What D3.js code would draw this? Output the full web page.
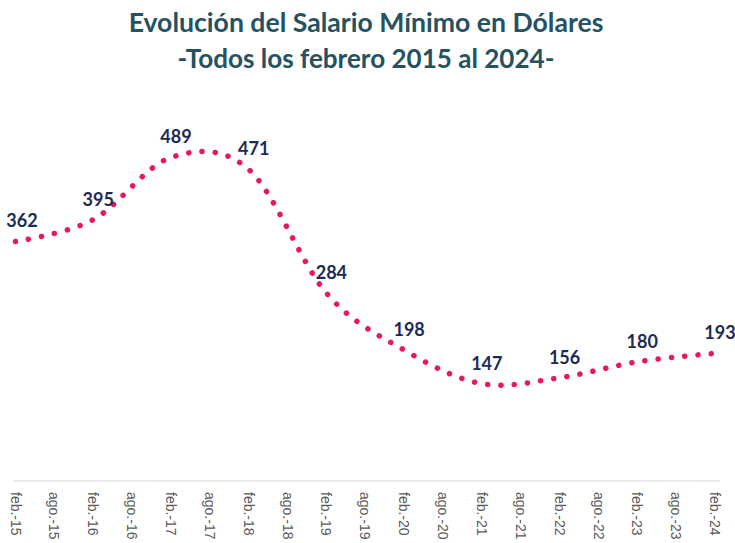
<!DOCTYPE html>
<html>
<head>
<meta charset="utf-8">
<script src="https://cdn.jsdelivr.net/npm/d3@7"></script>
<style>
  html, body { margin: 0; padding: 0; background: #ffffff; }
  svg { display: block; }
</style>
</head>
<body>
<svg id="chart" width="735" height="543"></svg>
<script>
// ---- data ----
const titleLines = ["Evolución del Salario Mínimo en Dólares", "-Todos los febrero 2015 al 2024-"];
const axisLabels = ["feb.-15","ago.-15","feb.-16","ago.-16","feb.-17","ago.-17","feb.-18","ago.-18","feb.-19","ago.-19",
                    "feb.-20","ago.-20","feb.-21","ago.-21","feb.-22","ago.-22","feb.-23","ago.-23","feb.-24"];
const periods = ["feb.-15","feb.-16","feb.-17","feb.-18","feb.-19","feb.-20","feb.-21","feb.-22","feb.-23","feb.-24"];
const salaryUSD = [362, 395, 489, 471, 284, 198, 147, 156, 180, 193];

// ---- layout ----
const W = 735, H = 543;
const svg = d3.select("#chart");

const x = d3.scalePoint().domain(axisLabels).range([15.5, 715]);
const y = d3.scaleLinear().domain([0, 600]).range([481, 84]);

const data = periods.map((p, i) => ({ p, v: salaryUSD[i] }));

// title
const titleColor = "#24525f";
const tTargets = [475, 377];
const tBase = [32, 68];
titleLines.forEach((t, i) => {
  const el = svg.append("text")
    .attr("x", 366)
    .attr("y", tBase[i])
    .attr("text-anchor", "middle")
    .attr("font-family", "Lato, 'Open Sans', sans-serif")
    .attr("font-weight", "bold")
    .attr("font-size", 24)
    .attr("fill", titleColor)
    .text(t);
  const len = el.node().getComputedTextLength();
  el.attr("font-size", 24 * tTargets[i] / len);
});

// axis line
svg.append("line")
  .attr("x1", 13).attr("x2", 720)
  .attr("y1", y(0)).attr("y2", y(0))
  .attr("stroke", "#d9d9d9").attr("stroke-width", 1.2);

// x axis labels (rotated)
svg.append("g").selectAll("text")
  .data(axisLabels)
  .join("text")
  .attr("transform", d => `translate(${x(d)},492) rotate(90)`)
  .attr("dy", "0.35em")
  .attr("text-anchor", "start")
  .attr("font-family", "'Liberation Sans', Arial, sans-serif")
  .attr("font-size", 14)
  .attr("fill", "#595959")
  .text(d => d);

// dotted smooth line
const line = d3.line()
  .x(d => x(d.p))
  .y(d => y(d.v))
  .curve(d3.curveCardinal.tension(0));

svg.append("path")
  .datum(data)
  .attr("d", line)
  .attr("fill", "none")
  .attr("stroke", "#e8185e")
  .attr("stroke-width", 5.5)
  .attr("stroke-linecap", "round")
  .attr("stroke-dasharray", "0.1 13.2");

// data labels
svg.append("g").selectAll("text")
  .data(data)
  .join("text")
  .attr("x", d => Math.max(x(d.p) + 5, 22))
  .attr("y", d => y(d.v) - 14)
  .attr("text-anchor", "middle")
  .attr("font-family", "Lato, 'Open Sans', sans-serif")
  .attr("font-weight", "bold")
  .attr("font-size", 18)
  .attr("fill", "#1c2a56")
  .text(d => d.v);
</script>
</body>
</html>
